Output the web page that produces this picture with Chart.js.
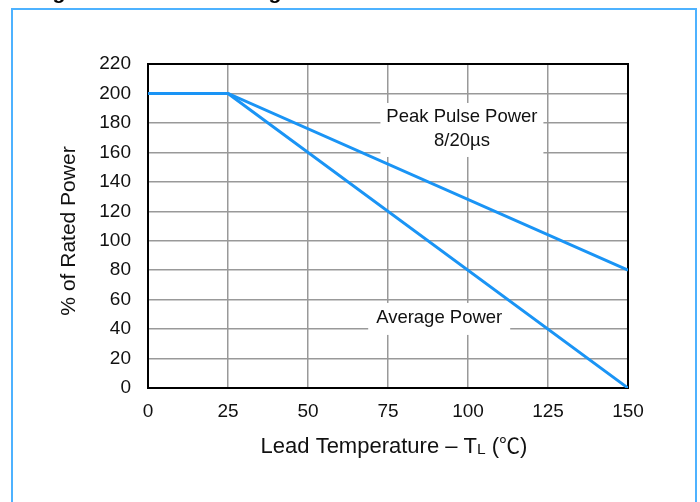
<!DOCTYPE html>
<html>
<head>
<meta charset="utf-8">
<script src="https://cdn.jsdelivr.net/npm/chart.js@4"></script>
<style>
html,body{margin:0;padding:0;background:#fff;}
#wrap{position:relative;width:700px;height:502px;}
</style>
</head>
<body>
<div id="wrap"><canvas id="c" width="700" height="502"></canvas></div>
<script>
const figureTitle = "Figure 2 - Pulse Derating Curve";
const xTitle = ["Lead Temperature \u2013 T", "L", " (", "\u2103", ")"];
const yTitle = "% of Rated Power";
const temperatures = [0, 25, 150];
const peakPulsePower = [200, 200, 80];
const averagePower = [200, 200, 0];
const xTicks = [0, 25, 50, 75, 100, 125, 150];
const yTicks = [0, 20, 40, 60, 80, 100, 120, 140, 160, 180, 200, 220];
const peakLabel = ["Peak Pulse Power", "8/20\u00b5s"];
const avgLabel = ["Average Power"];

const FONT = "'Liberation Sans', Arial, 'Noto Sans CJK SC', sans-serif";
const CJK = "'Noto Sans CJK SC', 'Liberation Sans', sans-serif";
const BLUE = '#1a94f5';

function pts(xs, ys){ return xs.map((x,i)=>({x:x, y:ys[i]})); }

const decor = {
  id:'decor',
  beforeDatasetsDraw(chart){
    const ctx = chart.ctx, a = chart.chartArea;
    const xs = chart.scales.x, ys = chart.scales.y;
    ctx.save();
    ctx.strokeStyle = '#000';
    ctx.lineWidth = 2;
    ctx.strokeRect(a.left, a.top, a.right - a.left, a.bottom - a.top);
    const boxes = [
      {cx: 98.1, cy: 175.2, w: 163, h: 54, lines: peakLabel},
      {cx: 91.0, cy: 46.9, w: 142, h: 32, lines: avgLabel}
    ];
    ctx.font = '18.5px ' + FONT;
    ctx.textAlign = 'center';
    ctx.textBaseline = 'middle';
    boxes.forEach(b=>{
      const px = xs.getPixelForValue(b.cx), py = ys.getPixelForValue(b.cy);
      ctx.fillStyle = '#fff';
      ctx.fillRect(px - b.w/2, py - b.h/2, b.w, b.h);
      ctx.fillStyle = '#111';
      const lh = 24;
      b.lines.forEach((t,i)=>{
        ctx.fillText(t, px, py - 1 + (i - (b.lines.length-1)/2)*lh);
      });
    });
    ctx.restore();
  },
  afterDraw(chart){
    const ctx = chart.ctx;
    ctx.save();
    ctx.strokeStyle = '#4db2ff';
    ctx.lineWidth = 2;
    ctx.strokeRect(12, 9, 684, 520);
    ctx.fillStyle = '#000';
    ctx.font = 'bold 21px ' + FONT;
    ctx.textAlign = 'left';
    ctx.textBaseline = 'alphabetic';
    const x0 = 59 - ctx.measureText('Fi').width - ctx.measureText('g').width/2;
    ctx.fillText(figureTitle, x0, -1.5);
    ctx.font = '21px ' + FONT;
    ctx.fillStyle = '#111';
    ctx.translate(69, 231);
    ctx.rotate(-Math.PI/2);
    ctx.textAlign = 'center';
    ctx.textBaseline = 'middle';
    ctx.fillText(yTitle, 0, 0);
    ctx.restore();
    ctx.save();
    ctx.fillStyle = '#111';
    ctx.textBaseline = 'alphabetic';
    ctx.textAlign = 'left';
    const fonts = ['22px ' + FONT, '15.5px ' + FONT, '22px ' + FONT, '21px ' + CJK, '22px ' + FONT];
    const widths = xTitle.map((t,i)=>{ ctx.font = fonts[i]; return ctx.measureText(t).width; });
    const gaps = [0, 0, 0, 0, 0];
    let total = widths.reduce((s,w)=>s+w,0) + gaps.reduce((s,g)=>s+g,0);
    let x = 394 - total/2;
    const base = 453;
    xTitle.forEach((t,i)=>{
      ctx.font = fonts[i];
      ctx.fillText(t, x, base + (i===1 ? 0.5 : 0) + (i===3 ? -0.5 : 0));
      x += widths[i] + gaps[i];
    });
    ctx.restore();
  }
};

new Chart(document.getElementById('c'), {
  type: 'line',
  data: {
    datasets: [
      {label: 'Peak Pulse Power 8/20\u00b5s', data: pts(temperatures, peakPulsePower), borderColor: BLUE, borderWidth: 3, pointRadius: 0, fill: false, tension: 0},
      {label: 'Average Power', data: pts(temperatures, averagePower), borderColor: BLUE, borderWidth: 3, pointRadius: 0, fill: false, tension: 0}
    ]
  },
  options: {
    responsive: false,
    animation: false,
    devicePixelRatio: 1,
    layout: {padding: {left: 0, right: 72, top: 64, bottom: 0}},
    plugins: {legend: {display: false}, tooltip: {enabled: false}, title: {display: false}},
    scales: {
      x: {
        type: 'linear', min: 0, max: 150,
        afterFit(s){ s.height = 114; },
        afterBuildTicks(s){ s.ticks = xTicks.map(v=>({value:v})); },
        grid: {color: '#999', lineWidth: 1.5, drawTicks: false},
        border: {display: true, color: '#000', width: 2},
        ticks: {padding: 12, color: '#111', font: {family: FONT, size: 19}, maxRotation: 0}
      },
      y: {
        type: 'linear', min: 0, max: 220,
        afterFit(s){ s.width = 148; },
        afterBuildTicks(s){ s.ticks = yTicks.map(v=>({value:v})); },
        grid: {color: '#999', lineWidth: 1.5, drawTicks: false},
        border: {display: true, color: '#000', width: 2},
        ticks: {padding: 17, color: '#111', font: {family: FONT, size: 19}}
      }
    }
  },
  plugins: [decor]
});
</script>
</body>
</html>
